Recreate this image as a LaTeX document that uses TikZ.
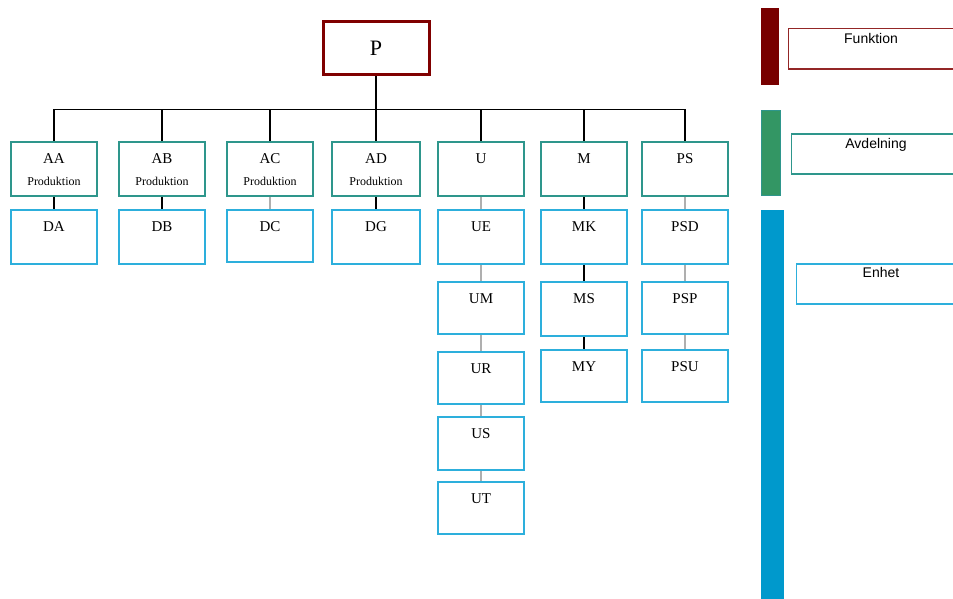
\documentclass[tikz,border=0pt]{standalone}
\usepackage{fontspec}
\setmainfont{Liberation Serif}
\newfontfamily\legendfont{Liberation Sans}
\usetikzlibrary{positioning}
\definecolor{funkred}{RGB}{128,0,0}
\definecolor{avdteal}{RGB}{46,150,140}
\definecolor{enhblue}{RGB}{45,175,220}
\definecolor{barred}{RGB}{120,0,0}
\definecolor{bargreen}{RGB}{51,150,100}
\definecolor{barblue}{RGB}{0,153,204}
\definecolor{softgray}{RGB}{175,175,175}
\tikzset{
  funkbox/.style={draw=funkred, line width=3pt, fill=white, minimum width=106pt, minimum height=53pt, inner sep=0pt, font=\fontsize{22}{24}\selectfont},
  avdbox/.style={draw=avdteal, line width=2pt, fill=white, minimum width=86pt, minimum height=54pt, inner sep=0pt},
  enhbox/.style={draw=enhblue, line width=2pt, fill=white, minimum width=86pt, minimum height=54pt, inner sep=0pt},
  lbl/.style={inner sep=0pt, font=\fontsize{15}{17}\selectfont},
  sublbl/.style={inner sep=0pt, font=\fontsize{12}{14}\selectfont},
  legtxt/.style={inner sep=0pt, font=\legendfont\fontsize{14}{16}\selectfont},
  solidlink/.style={draw=black, line width=1.6pt},
  softlink/.style={draw=softgray, line width=1.2pt},
}
\begin{document}
\begin{tikzpicture}[x=1pt, y=-1pt]
\useasboundingbox (0,0) rectangle (953,599);
\clip (0,0) rectangle (953,599);

% top function
\node[funkbox] (P) at (376,48.5) {P};

% departments
\node[avdbox] (AA) at (54,169) {};
\node[avdbox] (AB) at (162,169) {};
\node[avdbox] (AC) at (270,169) {};
\node[avdbox, minimum width=88pt] (AD) at (376,169) {};
\node[avdbox] (U)  at (481,169) {};
\node[avdbox] (M)  at (584,169) {};
\node[avdbox] (PS) at (685,169) {};

\foreach \n in {AA,AB,AC,AD,U,M,PS}{
  \node[lbl, below=12pt of \n.north] (\n-t) {\n};
}
\foreach \n in {AA,AB,AC,AD}{
  \node[sublbl, below=36pt of \n.north] (\n-s) {Produktion};
}

% units
\node[enhbox] (DA) at (54,237) {};
\node[enhbox] (DB) at (162,237) {};
\node[enhbox, minimum height=52pt] (DC) at (270,236) {};
\node[enhbox, minimum width=88pt] (DG) at (376,237) {};
\node[enhbox] (UE) at (481,237) {};
\node[enhbox, minimum height=52pt] (UM) at (481,308) {};
\node[enhbox, minimum height=52pt] (UR) at (481,378) {};
\node[enhbox, minimum height=53pt] (US) at (481,443.5) {};
\node[enhbox, minimum height=52pt] (UT) at (481,508) {};
\node[enhbox] (MK) at (584,237) {};
\node[enhbox] (MS) at (584,309) {};
\node[enhbox, minimum height=52pt] (MY) at (584,376) {};
\node[enhbox] (PSD) at (685,237) {};
\node[enhbox, minimum height=52pt] (PSP) at (685,308) {};
\node[enhbox, minimum height=52pt] (PSU) at (685,376) {};

\foreach \n in {DA,DB,DC,DG,UE,UM,UR,US,UT,MK,MS,MY,PSD,PSP,PSU}{
  \node[lbl, below=12pt of \n.north] (\n-t) {\n};
}

% connectors
\draw[solidlink] (P.south) -- ++(0,33) coordinate (bus);
\foreach \n in {AA,AB,AC,AD,U,M,PS}{
  \draw[solidlink] (\n.north) |- (bus);
}
\draw[solidlink] (AA) -- (DA);
\draw[solidlink] (AB) -- (DB);
\draw[softlink] (AC) -- (DC);
\draw[solidlink] (AD) -- (DG);
\draw[softlink] (U) -- (UE);
\draw[softlink] (UE) -- (UM);
\draw[softlink] (UM) -- (UR);
\draw[softlink] (UR) -- (US);
\draw[softlink] (US) -- (UT);
\draw[solidlink] (M) -- (MK);
\draw[solidlink] (MK) -- (MS);
\draw[solidlink] (MS) -- (MY);
\draw[softlink] (PS) -- (PSD);
\draw[softlink] (PSD) -- (PSP);
\draw[softlink] (PSP) -- (PSU);

% legend
\fill[barred] (761,8) rectangle (779,85);
\filldraw[fill=bargreen, draw=avdteal, line width=1pt] (761.5,110.5) rectangle (780.5,195.5);
\fill[barblue] (761,210) rectangle (784,600);

\draw[draw=funkred!85!white, line width=1.2pt] (788.5,28.5) rectangle (960,69);
\draw[draw=avdteal, line width=1.2pt] (791.5,134) rectangle (960,174);
\draw[draw=enhblue, line width=1.2pt] (796.5,264) rectangle (960,304);
\node[legtxt, anchor=north] (legF) at (871,33.5) {Funktion};
\node[legtxt, anchor=north] (legA) at (876,138.5) {Avdelning};
\node[legtxt, anchor=north] (legE) at (881,267.5) {Enhet};
\end{tikzpicture}
\end{document}
